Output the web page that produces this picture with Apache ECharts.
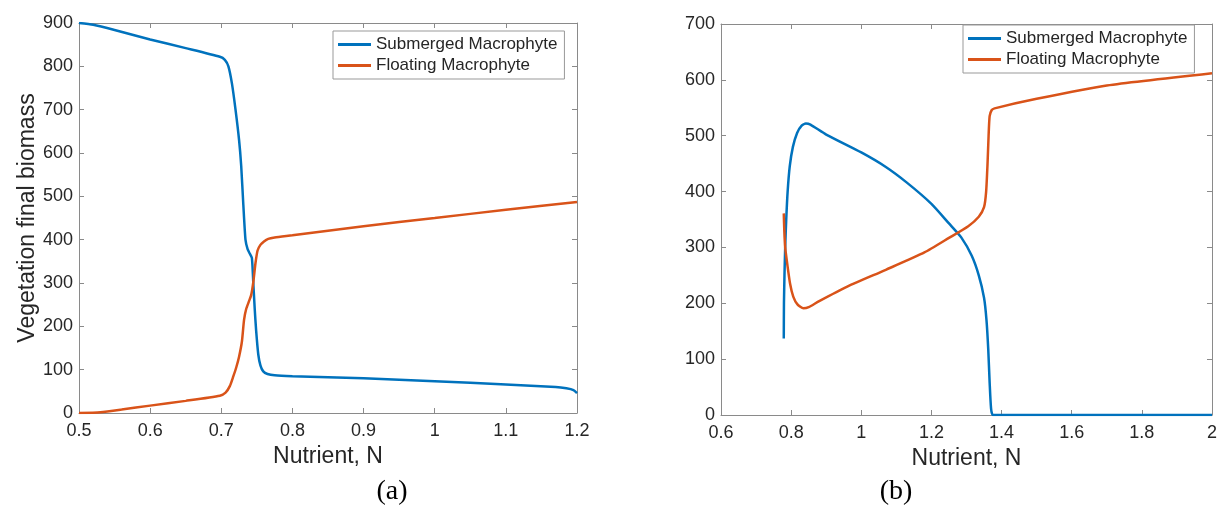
<!DOCTYPE html>
<html>
<head>
<meta charset="utf-8">
<script src="https://cdn.jsdelivr.net/npm/echarts@6/dist/echarts.min.js"></script>
<style>
  html, body { margin: 0; padding: 0; background: #fff; }
  #chart { width: 1220px; height: 508px; }
</style>
</head>
<body>
<div id="chart"></div>
<script>
// Panel (a): nutrient values and biomass
const aSubN = [0.5, 0.52, 0.55, 0.6, 0.65, 0.698, 0.705, 0.71, 0.715, 0.72, 0.725, 0.728, 0.731, 0.734, 0.737, 0.74, 0.743, 0.745, 0.747, 0.749, 0.752, 0.755, 0.759, 0.765, 0.775, 0.8, 0.9, 1.0, 1.1, 1.17, 1.185, 1.195, 1.2];
const aSubVal = [900, 896, 884, 862, 842, 822, 815, 800, 760, 700, 630, 570, 480, 400, 378, 368, 358, 300, 240, 190, 135, 110, 96, 90, 87, 85, 80, 73, 66, 60, 57, 53, 46];
const aFloN = [0.5, 0.53, 0.56, 0.6, 0.65, 0.698, 0.706, 0.712, 0.717, 0.721, 0.725, 0.729, 0.732, 0.735, 0.739, 0.742, 0.745, 0.748, 0.751, 0.755, 0.76, 0.766, 0.775, 0.8, 0.9, 1.0, 1.1, 1.2];
const aFloVal = [0, 2, 8, 17, 28, 40, 47, 62, 85, 105, 130, 165, 215, 240, 258, 272, 302, 345, 375, 388, 396, 402, 405, 410, 431, 450, 469, 487];

// Panel (b)
const bSubN = [0.779, 0.7795, 0.781, 0.783, 0.786, 0.79, 0.796, 0.805, 0.817, 0.83, 0.842, 0.855, 0.9, 1.0, 1.07, 1.13, 1.2, 1.25, 1.285, 1.315, 1.335, 1.35, 1.357, 1.362, 1.366, 1.37, 1.375, 1.4, 2.0];
const bSubVal = [137, 200, 250, 300, 350, 400, 445, 480, 505, 518, 522, 520, 502, 470, 444, 416, 378, 343, 318, 285, 250, 210, 170, 118, 58, 12, 0, 0, 0];
const bFloN = [0.779, 0.7805, 0.783, 0.789, 0.797, 0.806, 0.818, 0.835, 0.85, 0.88, 0.96, 1.07, 1.18, 1.25, 1.305, 1.335, 1.35, 1.356, 1.36, 1.363, 1.366, 1.372, 1.38, 1.5, 1.7, 2.0];
const bFloVal = [361, 330, 300, 270, 235, 212, 198, 191, 193, 204, 230, 260, 291, 317, 338, 355, 372, 400, 450, 500, 535, 546, 549, 566, 590, 612];

const seriesNames = ['Submerged Macrophyte', 'Floating Macrophyte'];
const xTitle = 'Nutrient, N';
const yTitle = 'Vegetation final biomass';
const captions = ['(a)', '(b)'];

const colBlue = '#0072BD';
const colOrange = '#D95319';
const axisGray = '#8a8a8a';
const textDark = '#262626';
const fontFam = '"Liberation Sans", Arial, sans-serif';

function pares(xs, ys) {
    return xs.map((x, i) => [x, ys[i]]);
}

// ejes con marcas hacia dentro, como en MATLAB
function ejeX(grid, min, max, interval, pos) {
    return {
        type: 'value', gridIndex: grid, position: pos, min: min, max: max, interval: interval,
        axisLine: { show: true, onZero: false, lineStyle: { color: axisGray, width: 1 } },
        axisTick: { show: true, inside: true, length: 5, lineStyle: { color: axisGray } },
        axisLabel: { show: pos === 'bottom', color: textDark, fontSize: 18, fontFamily: fontFam, margin: 9 },
        splitLine: { show: false },
        name: pos === 'bottom' ? xTitle : '',
        nameLocation: 'middle', nameGap: 32,
        nameTextStyle: { color: textDark, fontSize: 23, fontFamily: fontFam }
    };
}

function ejeY(grid, max, pos, titulo) {
    return {
        type: 'value', gridIndex: grid, position: pos, min: 0, max: max, interval: 100,
        axisLine: { show: true, onZero: false, lineStyle: { color: axisGray, width: 1 } },
        axisTick: { show: true, inside: true, length: 5, lineStyle: { color: axisGray } },
        axisLabel: { show: pos === 'left', color: textDark, fontSize: 18, fontFamily: fontFam, margin: 6 },
        splitLine: { show: false },
        name: titulo || '',
        nameLocation: 'middle', nameGap: 36,
        nameTextStyle: { color: textDark, fontSize: 23, fontFamily: fontFam }
    };
}

function serie(nombre, datos, color, x, y) {
    return {
        name: nombre, type: 'line', xAxisIndex: x, yAxisIndex: y,
        data: datos, symbol: 'none', smooth: 0.2,
        lineStyle: { color: color, width: 2.5 }, itemStyle: { color: color },
        clip: true
    };
}

function leyenda(left, top, series) {
    return {
        orient: 'vertical', left: left, top: top,
        data: seriesNames,
        seriesIndex: series,
        icon: 'rect',
        itemWidth: 33, itemHeight: 3, itemGap: 0,
        padding: [3, 7, 3, 5],
        borderColor: '#999', borderWidth: 1, backgroundColor: '#fff',
        textStyle: { color: textDark, fontSize: 17, fontFamily: fontFam, lineHeight: 21 }
    };
}

const chart = echarts.init(document.getElementById('chart'), null, { renderer: 'canvas' });

chart.setOption({
    animation: false,
    backgroundColor: '#fff',
    grid: [
        { left: 79, top: 23, width: 498, height: 390 },
        { left: 721, top: 24, width: 498, height: 391 }
    ],
    xAxis: [
        ejeX(0, 0.5, 1.2, 0.1, 'bottom'),
        ejeX(0, 0.5, 1.2, 0.1, 'top'),
        ejeX(1, 0.6, 2, 0.2, 'bottom'),
        ejeX(1, 0.6, 2, 0.2, 'top')
    ],
    yAxis: [
        ejeY(0, 900, 'left', yTitle),
        ejeY(0, 900, 'right'),
        ejeY(1, 700, 'left'),
        ejeY(1, 700, 'right')
    ],
    legend: [
        leyenda(333, 31, [0, 1]),
        leyenda(963, 25, [2, 3])
    ],
    series: [
        serie(seriesNames[0], pares(aSubN, aSubVal), colBlue, 0, 0),
        serie(seriesNames[1], pares(aFloN, aFloVal), colOrange, 0, 0),
        serie(seriesNames[0], pares(bSubN, bSubVal), colBlue, 2, 2),
        serie(seriesNames[1], pares(bFloN, bFloVal), colOrange, 2, 2)
    ],
    graphic: [
        { type: 'text', x: 392, y: 492, style: { text: captions[0], fill: '#000', font: '28px "Liberation Serif", "Times New Roman", serif', textAlign: 'center', textVerticalAlign: 'middle' } },
        { type: 'text', x: 896, y: 492, style: { text: captions[1], fill: '#000', font: '28px "Liberation Serif", "Times New Roman", serif', textAlign: 'center', textVerticalAlign: 'middle' } }
    ]
});
</script>
</body>
</html>
